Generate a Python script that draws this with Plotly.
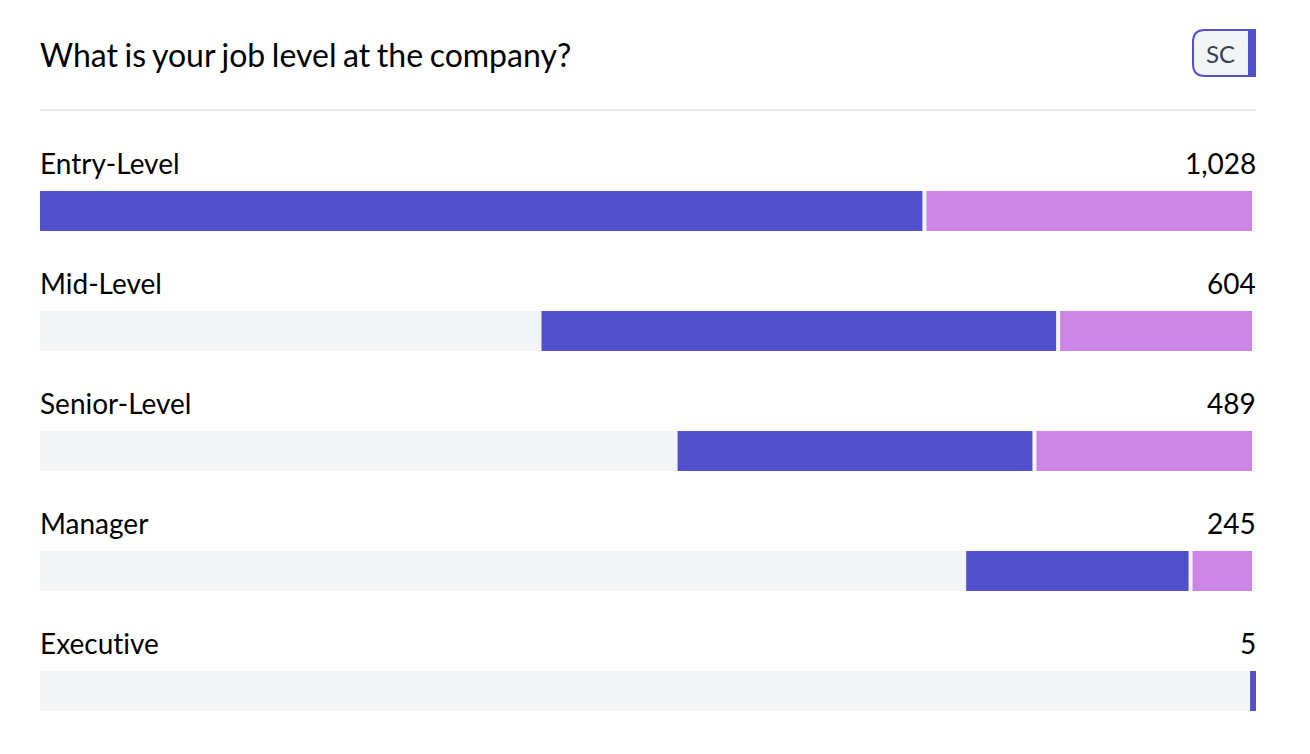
import plotly.graph_objects as go

# -------------------------------------------------------------
# Data
# -------------------------------------------------------------
title = "What is your job level at the company?"
badge = "SC"
levels = ["Entry-Level", "Mid-Level", "Senior-Level", "Manager", "Executive"]
totals = [1028, 604, 489, 245, 5]
total_labels = ["1,028", "604", "489", "245", "5"]
first_part = [746, 435, 300, 188, 5]
second_part = [282, 169, 189, 57, 0]

BLUE = "#5350CB"
PINK = "#CC85E5"
TRACK = "#F3F4F6"
RULE = "#E5E7EB"
FONT = "Lato, Carlito, Liberation Sans, sans-serif"

# the page body adds 8px around the figure, so everything is moved up and left by that
OFFSET = 8
W, H = 1310 - 2 * OFFSET, 754 - OFFSET
LEFT, RIGHT, TOP, BOTTOM = 40 - OFFSET, 1256 - OFFSET, 151 - OFFSET, 751 - OFFSET
# gap either side of the second segment, in data units
GAP = 4 * max(totals) / (RIGHT - LEFT)


def px(x):
    return (x - OFFSET - LEFT) / (RIGHT - LEFT)


def py(y):
    return (BOTTOM - (y - OFFSET)) / (BOTTOM - TOP)


def styled(text, css="font-variant-ligatures:none"):
    return f'<span style="{css}">{text}</span>'


starts = [max(totals) - t for t in totals]

fig = go.Figure()

# full width background track
fig.add_trace(go.Bar(y=levels, x=[max(totals)] * len(levels), base=0,
                     orientation="h", marker=dict(color=TRACK, line_width=0)))

fig.add_trace(go.Bar(y=levels, x=first_part, base=starts,
                     orientation="h", marker=dict(color=BLUE, line_width=0)))

fig.add_trace(go.Bar(y=levels,
                     x=[max(p - 2 * GAP, 0) for p in second_part],
                     base=[s + f + GAP for s, f in zip(starts, first_part)],
                     orientation="h", marker=dict(color=PINK, line_width=0)))

annotations = []
for level, label in zip(levels, total_labels):
    annotations.append(dict(x=0, xref="paper", xanchor="left", y=level, yref="y", yshift=48, xshift=-1,
                            text=styled(level), showarrow=False, borderpad=0,
                            font=dict(family=FONT, size=28, color="#000000")))
    annotations.append(dict(x=1, xref="paper", xanchor="right", y=level, yref="y", yshift=48, xshift=1,
                            text=label, showarrow=False, borderpad=0,
                            font=dict(family=FONT, size=28, color="#000000")))

annotations.append(dict(x=0, xref="paper", xanchor="left", y=py(54), yref="paper", yanchor="middle", xshift=-1,
                        text=styled(title, "word-spacing:-1.6px"), showarrow=False, borderpad=0,
                        font=dict(family=FONT, size=32, color="#000000")))
annotations.append(dict(x=px(1220.5), xref="paper", xanchor="center", y=py(53), yref="paper", yanchor="middle",
                        text=badge, showarrow=False, borderpad=0,
                        font=dict(family=FONT, size=24, color="#374151")))

# badge outline, rounded on the left only
bx0, bx1, by0, by1, r = 1193, 1252, 30, 76, 12
badge_path = (
    f"M {px(bx1)} {py(by0)} L {px(bx0 + r)} {py(by0)} "
    f"Q {px(bx0)} {py(by0)} {px(bx0)} {py(by0 + r)} "
    f"L {px(bx0)} {py(by1 - r)} "
    f"Q {px(bx0)} {py(by1)} {px(bx0 + r)} {py(by1)} "
    f"L {px(bx1)} {py(by1)} Z"
)

shapes = [
    dict(type="line", xref="paper", yref="paper", x0=0, x1=1, y0=py(110), y1=py(110),
         line=dict(color=RULE, width=2)),
    dict(type="path", xref="paper", yref="paper", path=badge_path,
         fillcolor=TRACK, line=dict(color=BLUE, width=2)),
    dict(type="rect", xref="paper", yref="paper", x0=px(1248), x1=px(1256), y0=py(29), y1=py(77),
         fillcolor=BLUE, line_width=0),
]

fig.update_layout(
    width=W,
    height=H,
    margin=dict(l=LEFT, r=W - RIGHT, t=TOP, b=H - BOTTOM, pad=0),
    paper_bgcolor="#ffffff",
    plot_bgcolor="#ffffff",
    barmode="overlay",
    bargap=2 / 3,
    showlegend=False,
    hovermode=False,
    xaxis=dict(range=[0, max(totals)], visible=False, fixedrange=True),
    yaxis=dict(range=[len(levels) - 0.5, -0.5], visible=False, fixedrange=True),
    annotations=annotations,
    shapes=shapes,
)

fig.write_html("out.html")
